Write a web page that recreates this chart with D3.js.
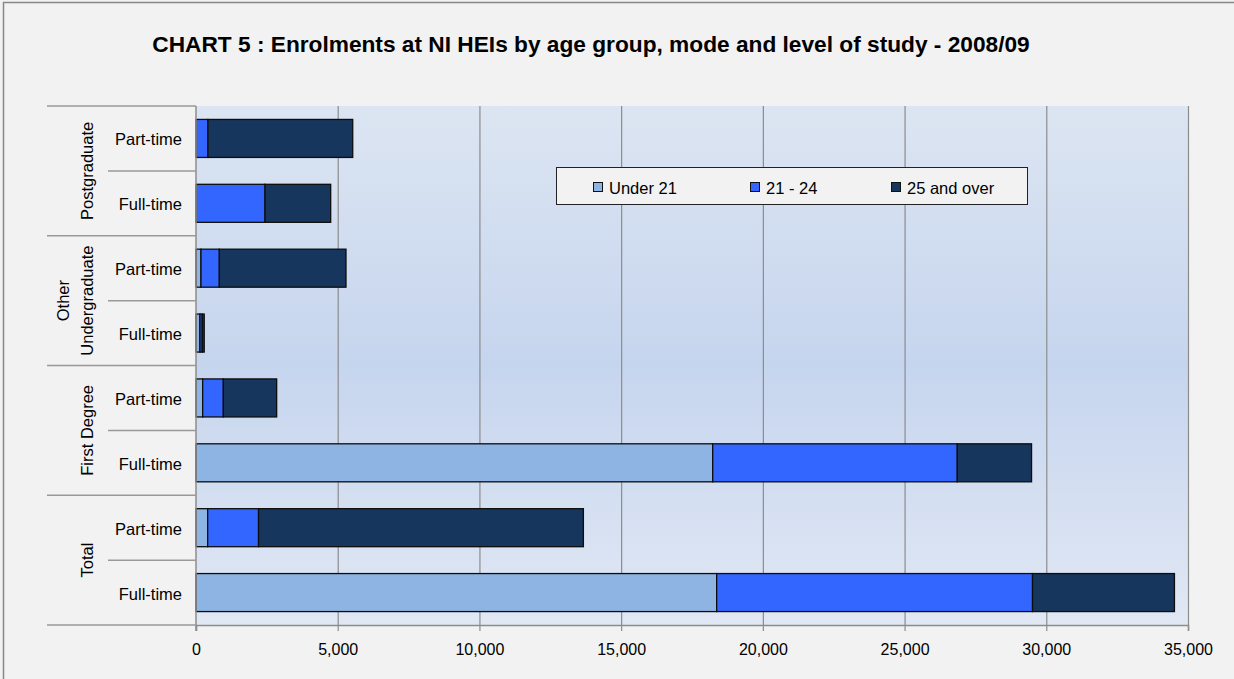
<!DOCTYPE html>
<html><head><meta charset="utf-8">
<script src="https://cdn.jsdelivr.net/npm/d3@7"></script>
<style>body{margin:0;background:#f2f2f2;} text{font-family:"Liberation Sans",Arial,sans-serif;fill:#000;}</style>
</head><body>
<svg id="c" width="1234" height="679"></svg>
<script>
const title = "CHART 5 : Enrolments at NI HEIs by age group, mode and level of study - 2008/09";
const groups = ["Postgraduate", "Other Undergraduate", "First Degree", "Total"];
const modes = ["Part-time", "Full-time"];
const seriesNames = ["Under 21", "21 - 24", "25 and over"];
const seriesColors = ["#8eb4e3", "#3366ff", "#17365d"];
// rows top -> bottom: PG PT, PG FT, OU PT, OU FT, FD PT, FD FT, Total PT, Total FT
const under21 = [0, 0, 176, 140, 235, 18230, 411, 18370];
const age21to24 = [420, 2435, 647, 80, 729, 8630, 1796, 11145];
const age25plus = [5110, 2317, 4469, 70, 1882, 2620, 11461, 5007];
const xTicks = [0, 5000, 10000, 15000, 20000, 25000, 30000, 35000];

const svg = d3.select("#c");
const W = 1234, H = 679;
svg.append("rect").attr("width", W).attr("height", H).attr("fill", "#f2f2f2");
svg.append("rect").attr("x", 3.5).attr("y", 2.5).attr("width", 1240).attr("height", 690)
  .attr("fill", "none").attr("stroke", "#888").attr("stroke-width", 1.5);

const L = 196, R = 1188, T = 106, B = 625;
const rows = [];
groups.forEach(g => modes.forEach(m => rows.push({group: g, mode: m})));
rows.forEach((r, i) => { r.key = i; r.v = [under21[i], age21to24[i], age25plus[i]]; });

const x = d3.scaleLinear().domain([0, 35000]).range([L, R]);
const y = d3.scaleBand().domain(rows.map(r => r.key)).range([T, B]).padding(0);

// plot background gradient
const defs = svg.append("defs");
const grad = defs.append("linearGradient").attr("id", "bg").attr("x1", 0).attr("y1", 0).attr("x2", 0).attr("y2", 1);
grad.append("stop").attr("offset", "0%").attr("stop-color", "#dce5f2");
grad.append("stop").attr("offset", "50%").attr("stop-color", "#c6d5ee");
grad.append("stop").attr("offset", "100%").attr("stop-color", "#e1e8f4");
svg.append("rect").attr("x", L).attr("y", T).attr("width", R - L).attr("height", B - T).attr("fill", "url(#bg)");

// gridlines
svg.append("g").selectAll("line").data(xTicks.filter(t => t > 0)).join("line")
  .attr("x1", d => x(d) + 0.5).attr("x2", d => x(d) + 0.5).attr("y1", T).attr("y2", B)
  .attr("stroke", "#8c8c8c").attr("stroke-width", 1.2);

// bars
const stack = d3.stack().keys([0, 1, 2]).value((r, k) => r.v[k]);
const stacked = stack(rows);
const bh = y.bandwidth() * 0.586;
svg.append("g").selectAll("g").data(stacked).join("g")
  .attr("fill", (d, i) => seriesColors[i])
  .selectAll("rect").data(d => d).join("rect")
  .attr("x", d => x(d[0])).attr("width", d => x(d[1]) - x(d[0]))
  .attr("y", d => y(d.data.key) + (y.bandwidth() - bh) / 2).attr("height", bh)
  .attr("stroke", "#0d0d0d").attr("stroke-width", 1.3);

// x axis
const xAxis = d3.axisBottom(x).tickValues(xTicks).tickSize(6).tickFormat(d3.format(","));
const gx = svg.append("g").attr("transform", `translate(0,${B})`).call(xAxis);
gx.select(".domain").attr("stroke", "#8c8c8c").attr("stroke-width", 1.5);
gx.selectAll(".tick line").attr("stroke", "#8c8c8c").attr("stroke-width", 1.2);
gx.selectAll(".tick text").attr("font-size", 16).attr("y", 25).attr("dy", "0.32em")
  .attr("font-family", "'Liberation Sans', Arial, sans-serif").attr("fill", "#000");

// y axis line
svg.append("line").attr("x1", L).attr("x2", L).attr("y1", T).attr("y2", B + 6)
  .attr("stroke", "#8c8c8c").attr("stroke-width", 1.5);

// left separators
const bounds = d3.range(rows.length + 1);
svg.append("g").selectAll("line").data(bounds).join("line")
  .attr("x1", i => i % 2 === 0 ? 47 : 108).attr("x2", L)
  .attr("y1", i => (i < rows.length ? y(i) : B)).attr("y2", i => (i < rows.length ? y(i) : B))
  .attr("stroke", "#999").attr("stroke-width", 1.5);

// category labels
svg.append("g").selectAll("text").data(rows).join("text")
  .attr("x", 182).attr("y", r => y(r.key) + y.bandwidth() / 2 + 1)
  .attr("text-anchor", "end").attr("dominant-baseline", "central").attr("font-size", 16.5)
  .text(r => r.mode);

// group labels
groups.forEach((g, gi) => {
  const cy = (y(gi * 2) + (gi * 2 + 2 < rows.length ? y(gi * 2 + 2) : B)) / 2;
  const words = g === "Other Undergraduate" ? ["Other", "Undergraduate"] : [g];
  words.forEach((w, wi) => {
    const cx = 87 - (words.length - 1 - wi) * 24;
    svg.append("text").attr("transform", `translate(${cx},${cy}) rotate(-90)`)
      .attr("text-anchor", "middle").attr("dominant-baseline", "central").attr("font-size", 16.5)
      .text(w);
  });
});

// legend
const lg = svg.append("g");
lg.append("rect").attr("x", 556.5).attr("y", 167.5).attr("width", 471).attr("height", 37)
  .attr("fill", "#f2f2f2").attr("stroke", "#222").attr("stroke-width", 1);
const lx = [593, 750, 891];
seriesNames.forEach((s, i) => {
  lg.append("rect").attr("x", lx[i] + 0.5).attr("y", 182.5).attr("width", 9).attr("height", 9)
    .attr("fill", seriesColors[i]).attr("stroke", "#111").attr("stroke-width", 1);
  lg.append("text").attr("x", lx[i] + 16).attr("y", 194).attr("font-size", 16.5).text(s);
});

// title
const tt = svg.append("text").attr("x", 591).attr("y", 52).attr("text-anchor", "middle")
  .attr("font-weight", "bold").attr("font-size", 20).text(title);
const tw = tt.node().getComputedTextLength();
tt.attr("font-size", 20 * 878 / tw);
</script>
</body></html>
